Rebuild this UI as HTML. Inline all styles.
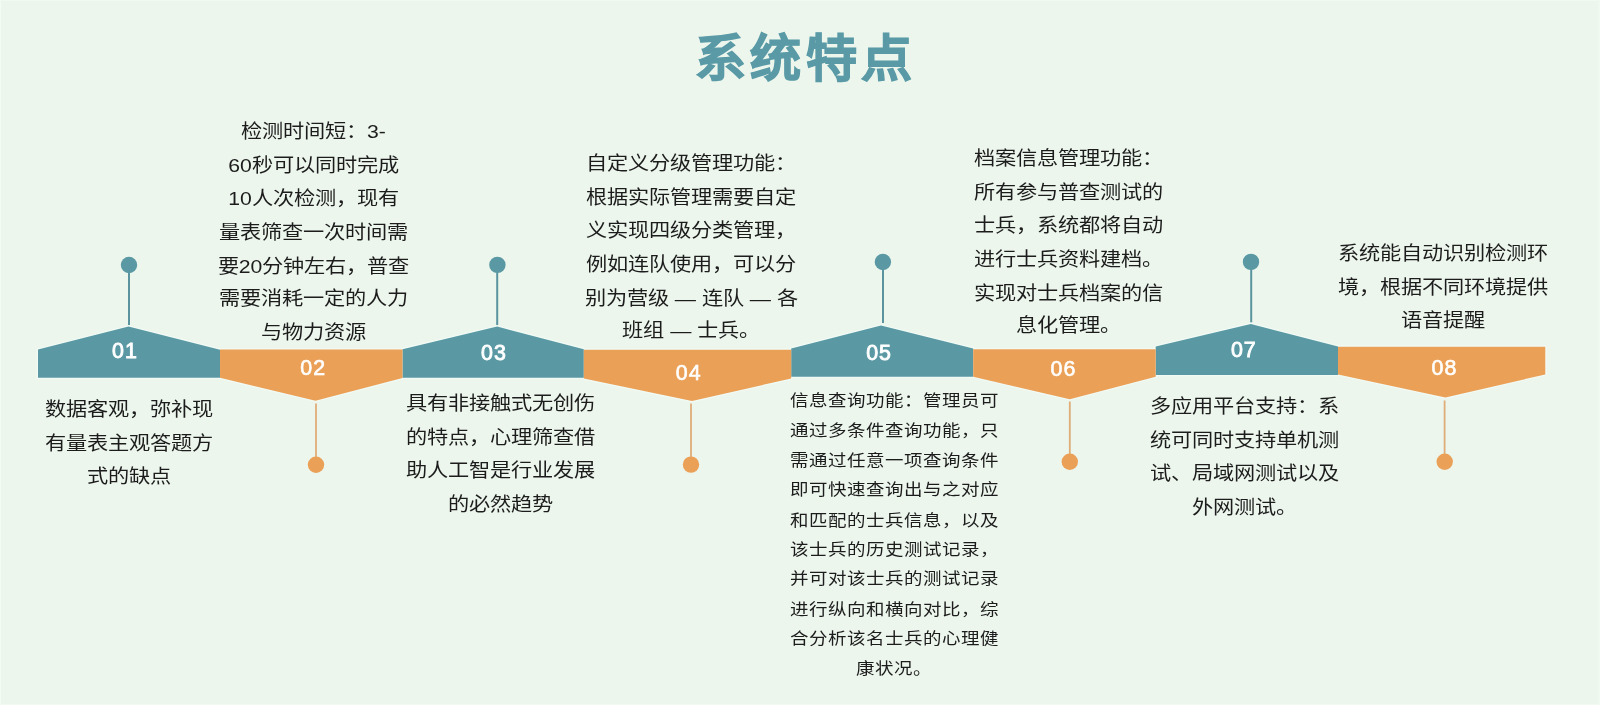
<!DOCTYPE html>
<html lang="zh-CN">
<head>
<meta charset="utf-8">
<style>
html,body{margin:0;padding:0;}
body{width:1600px;height:705px;overflow:hidden;background:#ecf6ed;font-family:"Liberation Sans",sans-serif;position:relative;color:#1c1c1c;}
svg{position:absolute;left:0;top:0;}
.title{position:absolute;left:0;width:1611.5px;top:21px;text-align:center;font-size:51px;font-weight:900;color:#5a9aa6;letter-spacing:4.6px;line-height:76px;-webkit-text-stroke:1.2px #5a9aa6;transform:scaleY(0.985);transform-origin:50% 35.7px;}
.t{position:absolute;font-size:21.2px;line-height:37.64px;text-align:center;white-space:nowrap;text-spacing-trim:space-all;filter:grayscale(1);transform:scaleY(0.89);transform-origin:0 0;}
.s{font-size:18.5px;line-height:33.4px;}
.n{position:absolute;color:#fff;font-weight:400;font-size:21.4px;line-height:24px;width:60px;text-align:center;letter-spacing:1px;-webkit-text-stroke:0.6px #fff;filter:grayscale(1);}
.b{-webkit-text-stroke:0.85px #fff;}
</style>
</head>
<body>
<div style="position:absolute;left:0;top:0;width:1600px;height:705px;box-sizing:border-box;border-left:1px solid #f2fcf3;border-top:1px solid #f0faf1;border-right:2px solid #eff9f0;border-bottom:1px solid #f0faf1;"></div>
<svg width="1600" height="705" viewBox="0 0 1600 705">
  <g fill="none" stroke="#f3fcf7" stroke-width="2.4" stroke-linejoin="round" opacity="0.85">
    <polygon points="38,377.8 38,349.6 128.5,326.6 220,349.7 220,377.8"/>
    <polygon points="402.5,377.8 402.5,349.2 497.2,326.6 583.8,349.2 583.8,377.8"/>
    <polygon points="791.2,376.7 791.2,348.5 881,325.6 973.2,348.5 973.2,376.7"/>
    <polygon points="1155.7,375 1155.7,346.6 1250.8,323.9 1338,346.6 1338,375"/>
    <polygon points="220,349.6 402.5,349.6 402.5,378 315.5,400.7 220,377.8"/>
    <polygon points="583.8,349.7 791.2,349.7 791.2,378.5 692,401 583.8,378.5"/>
    <polygon points="973.2,349.2 1155.7,349.2 1155.7,376.7 1069.8,399.2 973.2,376.7"/>
    <polygon points="1338,346.8 1545.3,346.8 1545.3,374.4 1445.4,397.6 1338,374.4"/>
  </g>
  <g fill="#5a99a4">
    <polygon points="38,377.8 38,349.6 128.5,326.6 220,349.7 220,377.8"/>
    <polygon points="402.5,377.8 402.5,349.2 497.2,326.6 583.8,349.2 583.8,377.8"/>
    <polygon points="791.2,376.7 791.2,348.5 881,325.6 973.2,348.5 973.2,376.7"/>
    <polygon points="1155.7,375 1155.7,346.6 1250.8,323.9 1338,346.6 1338,375"/>
  </g>
  <g fill="#eba057">
    <polygon points="220,349.6 402.5,349.6 402.5,378 315.5,400.7 220,377.8"/>
    <polygon points="583.8,349.7 791.2,349.7 791.2,378.5 692,401 583.8,378.5"/>
    <polygon points="973.2,349.2 1155.7,349.2 1155.7,376.7 1069.8,399.2 973.2,376.7"/>
    <polygon points="1338,346.8 1545.3,346.8 1545.3,374.4 1445.4,397.6 1338,374.4"/>
  </g>
  <g stroke="#5b949f" stroke-width="2">
    <line x1="129" y1="265" x2="129" y2="325"/>
    <line x1="497.2" y1="265" x2="497.2" y2="325"/>
    <line x1="883" y1="262" x2="883" y2="323"/>
    <line x1="1251.2" y1="262" x2="1251.2" y2="322.3"/>
  </g>
  <g stroke="#dfad78" stroke-width="1.8">
    <line x1="316" y1="403.5" x2="316" y2="464"/>
    <line x1="691" y1="403.5" x2="691" y2="464"/>
    <line x1="1069.8" y1="401.5" x2="1069.8" y2="461"/>
    <line x1="1444.6" y1="400.5" x2="1444.6" y2="461"/>
  </g>
  <g fill="#5a99a4">
    <circle cx="129" cy="265" r="8.2"/>
    <circle cx="497.4" cy="264.9" r="8.2"/>
    <circle cx="882.9" cy="262" r="8.2"/>
    <circle cx="1251" cy="261.9" r="8.2"/>
  </g>
  <g fill="#eba057">
    <circle cx="316" cy="464.7" r="8.2"/>
    <circle cx="691" cy="464.6" r="8.2"/>
    <circle cx="1069.8" cy="461.7" r="8.2"/>
    <circle cx="1444.7" cy="461.8" r="8.2"/>
  </g>
</svg>

<div class="title">系统特点</div>

<div class="n b" style="left:95px;top:338.6px">01</div>
<div class="n" style="left:283.2px;top:356px">02</div>
<div class="n b" style="left:464px;top:340.6px">03</div>
<div class="n" style="left:658.7px;top:360.5px">04</div>
<div class="n b" style="left:849.1px;top:340.5px">05</div>
<div class="n" style="left:1033.4px;top:356.8px">06</div>
<div class="n b" style="left:1213.8px;top:337.8px">07</div>
<div class="n" style="left:1414.4px;top:356px">08</div>

<div class="t" style="left:29px;width:200px;top:393px">数据客观，弥补现<br>有量表主观答题方<br>式的缺点</div>
<div class="t" style="left:213.5px;width:200px;top:114.8px">检测时间短：3-<br>60秒可以同时完成<br>10人次检测，现有<br>量表筛查一次时间需<br>要20分钟左右，普查<br>需要消耗一定的人力<br>与物力资源</div>
<div class="t" style="left:400.7px;width:200px;top:387.2px">具有非接触式无创伤<br>的特点，心理筛查借<br>助人工智是行业发展<br>的必然趋势</div>
<div class="t" style="left:571.3px;width:240px;top:147.1px">自定义分级管理功能：<br>根据实际管理需要自定<br>义实现四级分类管理，<br>例如连队使用，可以分<br>别为营级 — 连队 — 各<br>班组 — 士兵。</div>
<div class="t s" style="left:774.4px;width:240px;top:385.8px">信息查询功能：管理员可<br>通过多条件查询功能，只<br>需通过任意一项查询条件<br>即可快速查询出与之对应<br>和匹配的士兵信息，以及<br>该士兵的历史测试记录，<br>并可对该士兵的测试记录<br>进行纵向和横向对比，综<br>合分析该名士兵的心理健<br>康状况。</div>
<div class="t" style="left:968.5px;width:200px;top:142.3px">档案信息管理功能：<br>所有参与普查测试的<br>士兵，系统都将自动<br>进行士兵资料建档。<br>实现对士兵档案的信<br>息化管理。</div>
<div class="t" style="left:1144.3px;width:200px;top:390.4px">多应用平台支持：系<br>统可同时支持单机测<br>试、局域网测试以及<br>外网测试。</div>
<div class="t" style="left:1323px;width:240px;top:237px">系统能自动识别检测环<br>境，根据不同环境提供<br>语音提醒</div>
</body>
</html>
